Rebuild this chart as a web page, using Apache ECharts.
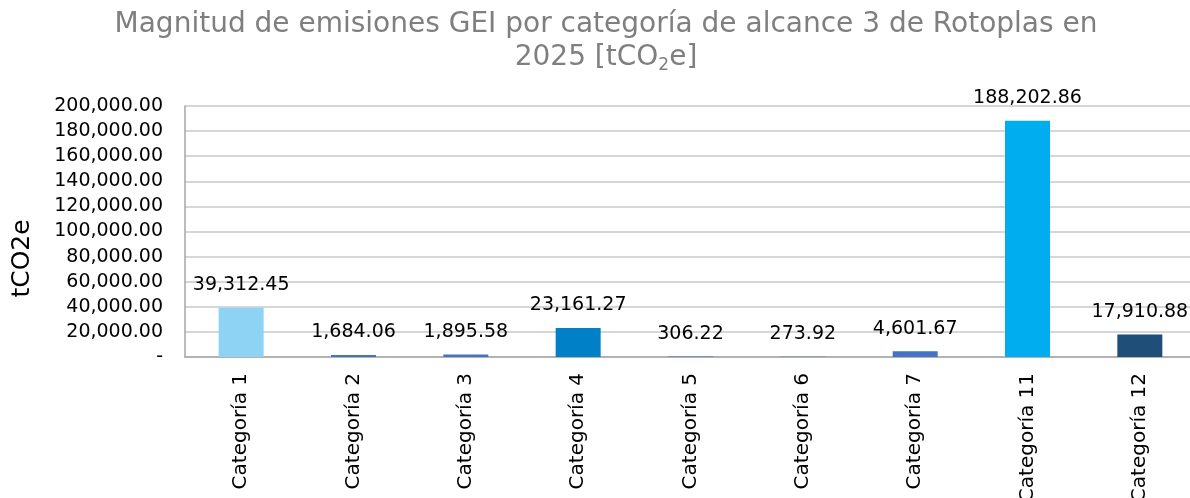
<!DOCTYPE html>
<html>
<head>
<meta charset="utf-8">
<style>
  html, body { margin: 0; padding: 0; background: #fff; }
  #chart { width: 1190px; height: 498px; }
</style>
<script src="https://cdn.jsdelivr.net/npm/echarts@6/dist/echarts.min.js"></script>
</head>
<body>
<div id="chart"></div>
<script>
const categories = ['Categoría 1', 'Categoría 2', 'Categoría 3', 'Categoría 4', 'Categoría 5',
  'Categoría 6', 'Categoría 7', 'Categoría 11', 'Categoría 12']
const values = [39312.45, 1684.06, 1895.58, 23161.27, 306.22, 273.92, 4601.67, 188202.86, 17910.88]
const barColors = ['#8FD3F4', '#4472C4', '#4472C4', '#0080C6', '#4472C4', '#4472C4', '#4472C4', '#00AEEF', '#1F4E79']

const FONT = 'DejaVu Sans'
const fmt = v => v.toLocaleString('en-US', { minimumFractionDigits: 2, maximumFractionDigits: 2 })

const myChart = echarts.init(document.getElementById('chart'))
const option = {
  animation: false,
  title: {
    text: 'Magnitud de emisiones GEI por categoría de alcance 3 de Rotoplas en\n2025 [tCO{sub|2}e]',
    left: 601,
    top: 3,
    textAlign: 'center',
    textStyle: {
      color: '#7F7F7F',
      fontFamily: FONT,
      fontWeight: 'normal',
      fontSize: 28,
      lineHeight: 33,
      rich: {
        sub: { fontSize: 17, color: '#7F7F7F', fontFamily: FONT, verticalAlign: 'bottom', padding: [12, 0, 0, 0] }
      }
    }
  },
  grid: { left: 185, right: -6, top: 106, bottom: 141, outerBoundsMode: 'none' },
  xAxis: {
    type: 'category',
    data: categories,
    axisLine: { lineStyle: { color: '#A6A6A6', width: 1.5 } },
    axisTick: { show: false },
    axisLabel: { rotate: 90, color: '#000', fontFamily: FONT, fontSize: 20, margin: 16, interval: 0 }
  },
  yAxis: {
    type: 'value',
    min: 0,
    max: 200000,
    interval: 20000,
    name: 'tCO2e',
    nameLocation: 'middle',
    nameGap: 150,
    nameRotate: 90,
    nameTextStyle: { color: '#000', fontFamily: FONT, fontSize: 25, padding: [0, 54, 0, 0] },
    axisLine: { show: true, lineStyle: { color: '#A6A6A6', width: 1.5 } },
    axisTick: { show: false },
    splitLine: { lineStyle: { color: '#C8C8C8', width: 1.5 } },
    axisLabel: {
      color: '#000', fontFamily: FONT, fontSize: 19, margin: 22,
      formatter: v => (v === 0 ? '-' : fmt(v))
    }
  },
  series: [
    {
      type: 'bar',
      barWidth: 45,
      data: values.map((v, i) => ({ value: v, itemStyle: { color: barColors[i] } })),
      label: {
        show: true,
        position: 'top',
        distance: 13,
        color: '#000',
        fontFamily: FONT,
        fontSize: 19,
        formatter: p => fmt(p.value)
      }
    }
  ]
}

myChart.setOption(option)
window.addEventListener('resize', function () {
  myChart.resize()
})
</script>
</body>
</html>
